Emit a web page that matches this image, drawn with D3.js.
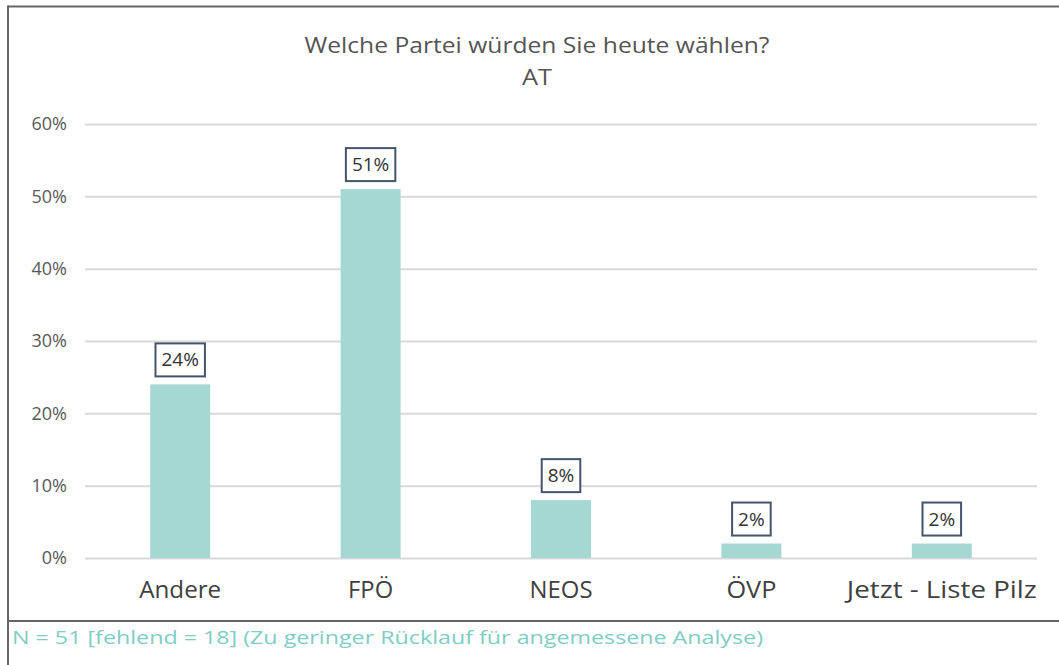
<!DOCTYPE html>
<html><head><meta charset="utf-8">
<script src="https://cdn.jsdelivr.net/npm/d3@7"></script>
<style>body{margin:0;background:#fff}svg{display:block}text{font-family:"Open Sans",sans-serif}</style>
</head><body><svg id="c" width="1059" height="665"></svg>
<script>
const categories = ["Andere", "FPÖ", "NEOS", "ÖVP", "Jetzt - Liste Pilz"];
const values = [24, 51, 8, 2, 2];
const yTicks = [0, 10, 20, 30, 40, 50, 60];
const title1 = "Welche Partei würden Sie heute wählen?";
const title2 = "AT";
const footnote = "N = 51 [fehlend = 18] (Zu geringer Rücklauf für angemessene Analyse)";

const svg = d3.select("#c");
const x = d3.scaleBand().domain(categories).range([85, 1037]).paddingInner(0.685).paddingOuter(0.3425);
const y = d3.scaleLinear().domain([0, 60]).range([558, 124]);

// frame
svg.append("line").attr("x1", 8).attr("x2", 1059).attr("y1", 6.5).attr("y2", 6.5).attr("stroke", "#666").attr("stroke-width", 2);
svg.append("line").attr("x1", 8).attr("x2", 8).attr("y1", 5.5).attr("y2", 665).attr("stroke", "#666").attr("stroke-width", 2);
svg.append("line").attr("x1", 8).attr("x2", 1059).attr("y1", 621).attr("y2", 621).attr("stroke", "#666").attr("stroke-width", 2);

// fit text width helper
function fit(sel, w) {
  sel.each(function () {
    const t = d3.select(this);
    const cur = this.getComputedTextLength();
    if (Math.abs(cur - w) > 1) t.attr("textLength", w).attr("lengthAdjust", "spacingAndGlyphs");
  });
}

// title
svg.append("text").attr("x", 537).attr("y", 53).attr("text-anchor", "middle").attr("font-size", 22).attr("fill", "#555").text(title1).call(fit, 465);
svg.append("text").attr("x", 537).attr("y", 85).attr("text-anchor", "middle").attr("font-size", 22).attr("fill", "#555").text(title2).call(fit, 30);

// grid
const yAxis = d3.axisLeft(y).tickValues(yTicks).tickSize(-(1037 - 85)).tickFormat(d => d + "%").tickPadding(18);
const gy = svg.append("g").attr("transform", "translate(85,0)").call(yAxis);
gy.select(".domain").remove();
gy.selectAll(".tick line").attr("stroke", "#d9d9d9").attr("stroke-width", 2);
gy.selectAll(".tick text").attr("font-size", 18).attr("fill", "#595959").attr("font-family", "'Open Sans', sans-serif");

// bars
svg.append("g").selectAll("rect").data(values).join("rect")
  .attr("x", (d, i) => x(categories[i])).attr("width", x.bandwidth())
  .attr("y", d => y(d)).attr("height", d => y(0) - y(d)).attr("fill", "#a5d8d3");

// x labels
const xAxis = d3.axisBottom(x).tickSize(0).tickPadding(24);
const gx = svg.append("g").attr("transform", "translate(0,558)").call(xAxis);
gx.select(".domain").remove();
gx.selectAll(".tick text").attr("font-size", 23).attr("fill", "#404040").attr("font-family", "'Open Sans', sans-serif");
const catW = [82, 45, 63, 50, 190];
gx.selectAll(".tick text").each(function (d, i) { fit(d3.select(this), catW[i]); });

// data labels
const lbl = svg.append("g").selectAll("g").data(values).join("g")
  .attr("transform", (d, i) => `translate(${x(categories[i]) + x.bandwidth() / 2},${y(d) - 8})`);
lbl.append("text").attr("text-anchor", "middle").attr("y", -10).attr("font-size", 19).attr("fill", "#333")
  .attr("font-family", "'Open Sans', sans-serif").text(d => d + "%");
lbl.each(function () {
  const g = d3.select(this);
  const bb = g.select("text").node().getBBox();
  g.insert("rect", "text").attr("x", bb.x - 6).attr("y", -33).attr("width", bb.width + 12).attr("height", 33)
    .attr("fill", "#fff").attr("stroke", "#44546a").attr("stroke-width", 2);
});

// footnote
svg.append("text").attr("x", 12).attr("y", 644).attr("font-size", 19).attr("fill", "#7fcdc4").text(footnote).call(fit, 751);
</script></body></html>
